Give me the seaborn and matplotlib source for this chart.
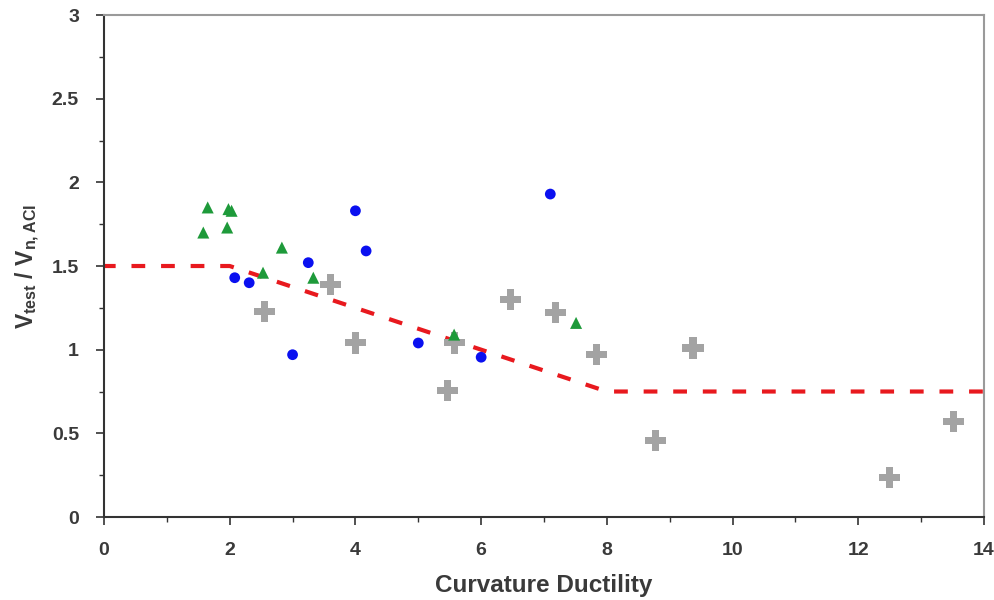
import matplotlib
matplotlib.use("Agg")
import matplotlib.pyplot as plt
import seaborn as sns
import pandas as pd
from matplotlib.ticker import MultipleLocator

# Data
tri_x = [1.58, 1.65, 1.96, 1.98, 2.03, 2.53, 2.83, 3.33, 5.57, 7.51]
tri_y = [1.70, 1.85, 1.73, 1.84, 1.83, 1.46, 1.61, 1.43, 1.09, 1.16]

circ_x = [2.08, 2.31, 3.00, 3.25, 4.00, 4.17, 5.00, 6.00, 7.10]
circ_y = [1.43, 1.40, 0.97, 1.52, 1.83, 1.59, 1.04, 0.955, 1.93]

plus_x = [2.55, 3.61, 4.00, 5.47, 5.57, 6.46, 7.19, 7.83, 8.78, 9.37, 12.50, 13.52]
plus_y = [1.23, 1.39, 1.04, 0.756, 1.04, 1.30, 1.22, 0.97, 0.456, 1.01, 0.234, 0.57]

line_x = [0, 2, 8, 14]
line_y = [1.5, 1.5, 0.75, 0.75]

x_ticks = [0, 2, 4, 6, 8, 10, 12, 14]
y_ticks = [0, 0.5, 1, 1.5, 2, 2.5, 3]
y_tick_labels = ["0", "0.5", "1", "1.5", "2", "2.5", "3"]

sns.set_style("white")
plt.rcParams['font.family'] = ['Liberation Sans', 'DejaVu Sans']

fig = plt.figure(figsize=(9.95, 6), dpi=100)
ax = fig.add_axes([0.1045, 0.1383, 0.8845, 0.8367])

df_line = pd.DataFrame({"x": line_x, "y": line_y})
sns.lineplot(data=df_line, x="x", y="y", ax=ax, color="#e8191e",
             linewidth=3, linestyle=(0.5, (3.3, 3.8)), zorder=1)

df_plus = pd.DataFrame({"x": plus_x, "y": plus_y})
sns.scatterplot(data=df_plus, x="x", y="y", ax=ax, marker="P", s=230,
                color="#a3a3a3", edgecolor="none", zorder=3)
df_tri = pd.DataFrame({"x": tri_x, "y": tri_y})
sns.scatterplot(data=df_tri, x="x", y="y", ax=ax, marker="^", s=75,
                color="#1e9a3a", edgecolor="none", zorder=4)
df_circ = pd.DataFrame({"x": circ_x, "y": circ_y})
sns.scatterplot(data=df_circ, x="x", y="y", ax=ax, marker="o", s=60,
                color="#0a10f0", edgecolor="none", zorder=5)

ax.set_xlim(0, 14)
ax.set_ylim(0, 3)
ax.set_xticks(x_ticks)
ax.set_yticks(y_ticks)
ax.set_yticklabels(y_tick_labels)
ax.xaxis.set_minor_locator(MultipleLocator(1))
ax.yaxis.set_minor_locator(MultipleLocator(0.25))

for lab in ax.get_xticklabels() + ax.get_yticklabels():
    lab.set_fontweight("bold")
ax.tick_params(which="major", direction="out", length=6, width=1.2,
               color="#333333", labelsize=14, labelcolor="#3a3a3a", pad=12)
ax.tick_params(which="minor", direction="out", length=3.5, width=1.0,
               color="#333333")
ax.tick_params(axis="x", which="both", bottom=True, top=False)
ax.tick_params(axis="y", which="both", left=True, right=False)

ax.spines["left"].set_color("#333333")
ax.spines["bottom"].set_color("#333333")
ax.spines["left"].set_linewidth(1.5)
ax.spines["bottom"].set_linewidth(1.5)
ax.spines["top"].set_color("#9a9a9a")
ax.spines["right"].set_color("#9a9a9a")
ax.spines["top"].set_linewidth(1.5)
ax.spines["right"].set_linewidth(1.5)

ax.set_xlabel("Curvature Ductility", fontsize=17.5, fontweight="bold",
              color="#3a3a3a", labelpad=11)
ax.set_ylabel(r"V$_{\mathregular{test}}$ / V$_{\mathregular{n,ACI}}$",
              fontsize=16.5, fontweight="bold", color="#3a3a3a", labelpad=7)

fig.savefig("out.png", dpi=100)
